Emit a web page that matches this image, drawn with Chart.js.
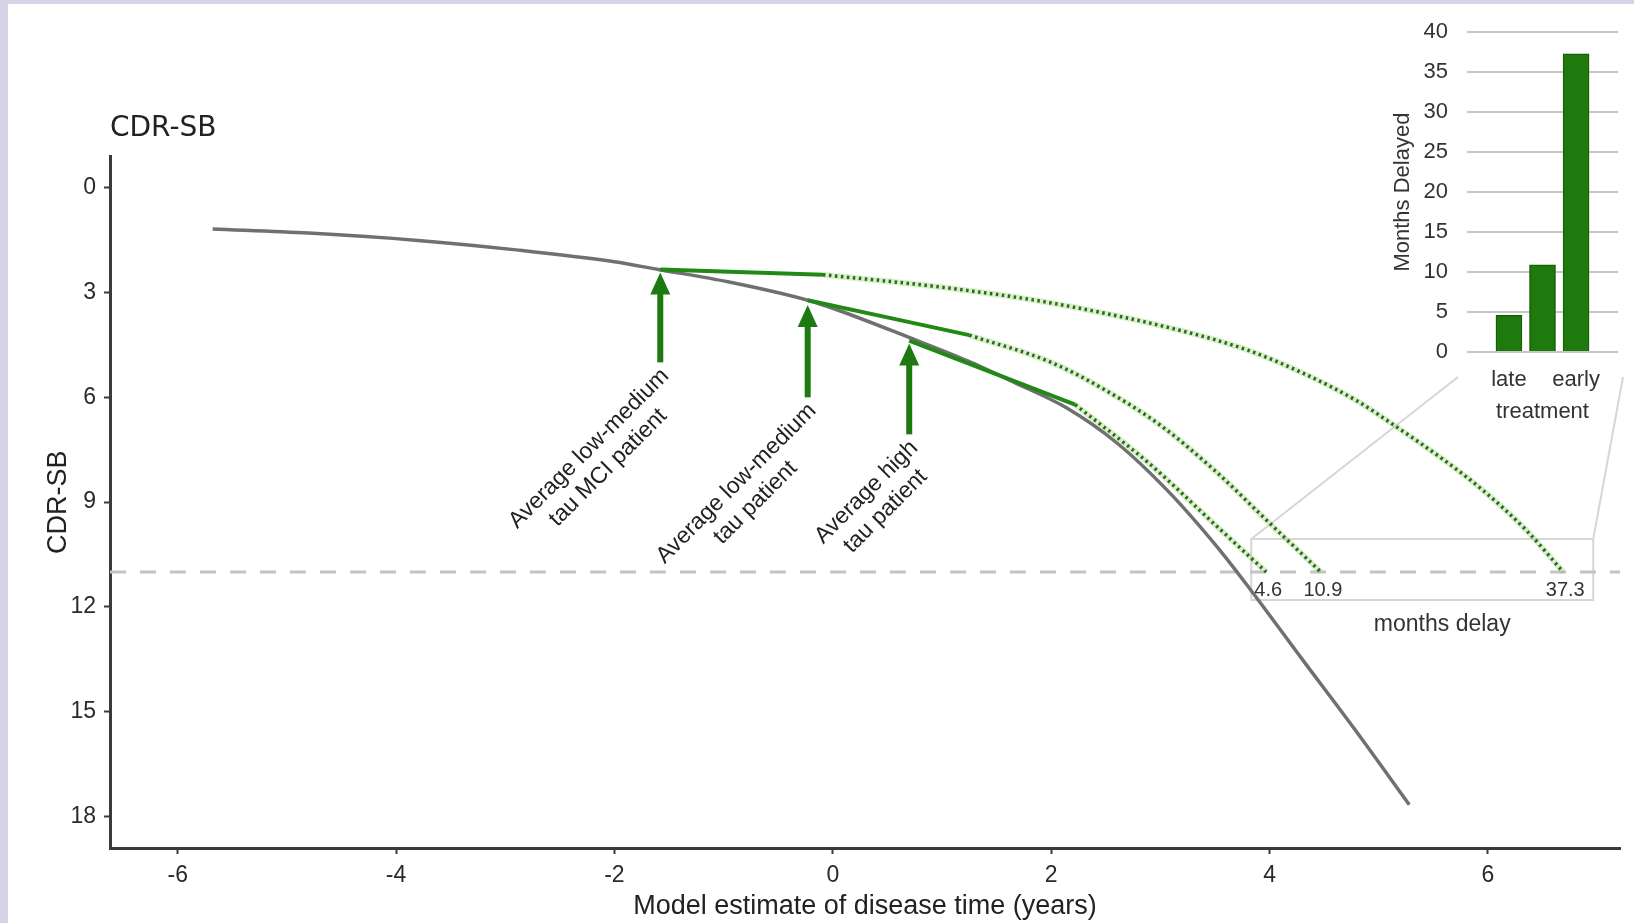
<!DOCTYPE html>
<html lang="en">
<head>
    <meta charset="UTF-8">
    <title>CDR-SB progression and months of delay</title>
    <script src="https://cdn.jsdelivr.net/npm/chart.js@4.4.1/dist/chart.umd.min.js"></script>
    <style>
        body {
            margin: 0;
            width: 1634px;
            height: 923px;
            overflow: hidden;
            background: #d5d3e5;
            font-family: 'Liberation Sans', Arial, sans-serif;
        }

        .panel {
            position: absolute;
            left: 8px;
            top: 4px;
            width: 1626px;
            height: 919px;
            background: #fff;
        }

        #insetChart {
            position: absolute;
            left: 1340px;
            top: 0;
        }
    </style>
</head>
<body>
    <div class="panel"><canvas id="mainChart" width="1626" height="919"></canvas></div>
    <canvas id="insetChart" width="294" height="440"></canvas>

    <script>
        // --- data ---

        // average disease course (years vs CDR-SB)
        const curveYears = [-5.68, -4.8, -3.8, -2.9, -2.0, -1.6, -0.95, -0.23, 0.0, 0.71, 1.23, 1.68, 2.14, 2.6, 3.06, 3.52, 3.8, 4.3, 4.78, 5.28];
        const curveCdr = [1.18, 1.30, 1.51, 1.78, 2.12, 2.34, 2.70, 3.22, 3.45, 4.30, 4.95, 5.60, 6.30, 7.30, 8.65, 10.28, 11.4, 13.5, 15.5, 17.66];

        // treated trajectories: solid = on treatment, dotted = projection
        const earlySolidYears = [-1.58, -0.09];
        const earlySolidCdr = [2.34, 2.49];
        const earlyProjYears = [-0.09, 1.0, 2.0, 3.2, 3.8, 4.3, 4.8, 5.16, 5.6, 5.95, 6.35, 6.69];
        const earlyProjCdr = [2.49, 2.85, 3.3, 4.1, 4.65, 5.3, 6.1, 6.84, 7.8, 8.65, 9.8, 11.0];

        const midSolidYears = [-0.23, 1.25];
        const midSolidCdr = [3.22, 4.22];
        const midProjYears = [1.25, 2.0, 2.5, 3.0, 3.5, 4.0, 4.47];
        const midProjCdr = [4.22, 5.0, 5.8, 6.8, 8.1, 9.6, 11.0];

        const lateSolidYears = [0.70, 2.22];
        const lateSolidCdr = [4.38, 6.21];
        const lateProjYears = [2.22, 2.9, 3.52, 3.97];
        const lateProjCdr = [6.21, 7.9, 9.7, 11.0];

        // arrows marking the average patients
        const arrowYears = [-1.58, -0.23, 0.70];
        const arrowTipCdr = [2.43, 3.36, 4.46];
        const arrowBaseCdr = [5.0, 6.0, 7.06];
        const arrowLabels = [
            ['Average low-medium', 'tau MCI patient'],
            ['Average low-medium', 'tau patient'],
            ['Average high', 'tau patient']
        ];

        const thresholdCdr = 11;
        const delayMonths = [4.6, 10.9, 37.3];   // late, middle, early
        const treatmentLabels = ['late', '', 'early'];

        const xTicks = [-6, -4, -2, 0, 2, 4, 6];
        const yTicks = [0, 3, 6, 9, 12, 15, 18];
        const insetTicks = [0, 5, 10, 15, 20, 25, 30, 35, 40];

        // --- styling ---
        const FONT = "'Liberation Sans', Arial, sans-serif";
        const GREEN = '#218915';
        const ARROW = '#1c7a10';
        const DOT = '#2b6a1e';
        const X_MIN = -6.62, X_MAX = 7.21;

        Chart.defaults.font.family = FONT;
        Chart.defaults.color = '#2a2a2a';

        const toPts = (xs, ys) => xs.map((x, i) => ({ x: x, y: ys[i] }));

        function line(pts, opts) {
            return Object.assign({
                data: pts,
                pointRadius: 0,
                fill: false,
                cubicInterpolationMode: 'monotone',
                borderCapStyle: 'butt'
            }, opts);
        }

        // inset bar chart
        const insetChart = new Chart(document.getElementById('insetChart'), {
            type: 'bar',
            data: {
                datasets: [{
                    data: delayMonths.map((m, i) => ({ x: i + 1, y: m })),
                    backgroundColor: '#1f7a0d',
                    borderColor: '#165f08',
                    borderWidth: 1.5,
                    barThickness: 26
                }]
            },
            options: {
                responsive: false,
                animation: false,
                layout: { padding: { top: 26, right: 16, left: 0, bottom: 0 } },
                plugins: { legend: { display: false }, tooltip: { enabled: false } },
                scales: {
                    x: {
                        type: 'linear',
                        min: -0.25,
                        max: 4.25,
                        offset: false,
                        afterBuildTicks: s => { s.ticks = treatmentLabels.map((_, i) => ({ value: i + 1 })); },
                        afterFit: s => { s.height = 88; },
                        grid: { display: false, drawTicks: false },
                        border: { display: false },
                        ticks: {
                            callback: v => treatmentLabels[v - 1],
                            font: { size: 22 },
                            color: '#333',
                            padding: 15,
                            autoSkip: false,
                            maxRotation: 0
                        },
                        title: {
                            display: true,
                            text: 'treatment',
                            font: { size: 22 },
                            color: '#333',
                            padding: { top: 0, bottom: 15 }
                        }
                    },
                    y: {
                        min: 0,
                        max: 40,
                        afterBuildTicks: s => { s.ticks = insetTicks.map(v => ({ value: v })); },
                        afterFit: s => { s.width = 127; },
                        grid: { color: '#c6c6c6', lineWidth: 2, drawTicks: false },
                        border: { display: false },
                        ticks: { font: { size: 22 }, color: '#333', padding: 19 },
                        title: {
                            display: true,
                            text: 'Months Delayed',
                            font: { size: 22 },
                            color: '#333',
                            padding: { top: 50, bottom: 0 }
                        }
                    }
                }
            }
        });

        const crossYears = [lateProjYears.at(-1), midProjYears.at(-1), earlyProjYears.at(-1)];

        // callout box under the threshold and lines up to the inset
        const calloutPlugin = {
            id: 'callout',
            beforeDatasetsDraw(chart) {
                const { ctx, scales: { x, y } } = chart;
                const thr = y.getPixelForValue(thresholdCdr);
                const left = x.getPixelForValue(Math.min(...crossYears)) - 15;
                const right = x.getPixelForValue(Math.max(...crossYears)) + 30;

                const mainBox = chart.canvas.getBoundingClientRect();
                const insetBox = insetChart.canvas.getBoundingClientRect();
                const area = insetChart.chartArea;
                const dx = insetBox.left - mainBox.left;
                const dy = insetBox.top - mainBox.top;

                ctx.save();
                ctx.strokeStyle = '#d6d6d6';
                ctx.lineWidth = 2;
                ctx.strokeRect(left, thr - 33, right - left, 61);
                ctx.beginPath();
                ctx.moveTo(left, thr - 33);
                ctx.lineTo(dx + area.left - 9, dy + area.bottom + 25);
                ctx.moveTo(right, thr - 33);
                ctx.lineTo(dx + area.right + 5, dy + area.bottom + 25);
                ctx.stroke();
                ctx.restore();
            },
            afterDatasetsDraw(chart) {
                const { ctx, scales: { x, y } } = chart;
                const thr = y.getPixelForValue(thresholdCdr);
                const left = x.getPixelForValue(Math.min(...crossYears)) - 15;
                const right = x.getPixelForValue(Math.max(...crossYears)) + 30;

                ctx.save();
                ctx.fillStyle = '#333';
                ctx.textAlign = 'center';
                ctx.textBaseline = 'middle';
                ctx.font = '20px ' + FONT;
                delayMonths.forEach((m, i) => {
                    ctx.fillText(m.toFixed(1), x.getPixelForValue(crossYears[i]) + 2, thr + 18);
                });
                ctx.font = '23px ' + FONT;
                ctx.fillText('months delay', (left + right) / 2 + 20, thr + 53);

                // arrows and their rotated labels
                arrowYears.forEach((yr, i) => {
                    const px = x.getPixelForValue(yr);
                    const tip = y.getPixelForValue(arrowTipCdr[i]);
                    const base = y.getPixelForValue(arrowBaseCdr[i]);

                    ctx.strokeStyle = ARROW;
                    ctx.lineWidth = 6;
                    ctx.beginPath();
                    ctx.moveTo(px, base);
                    ctx.lineTo(px, tip + 18);
                    ctx.stroke();

                    ctx.fillStyle = ARROW;
                    ctx.beginPath();
                    ctx.moveTo(px, tip);
                    ctx.lineTo(px - 10, tip + 22);
                    ctx.lineTo(px + 10, tip + 22);
                    ctx.closePath();
                    ctx.fill();

                    ctx.save();
                    ctx.translate(px + 5, base + 10);
                    ctx.rotate(-Math.PI / 4);
                    ctx.font = '23px ' + FONT;
                    ctx.fillStyle = '#222';
                    const lines = arrowLabels[i];
                    const w0 = ctx.measureText(lines[0]).width;
                    lines.forEach((t, j) => ctx.fillText(t, -w0 / 2, j * 27));
                    ctx.restore();
                });
                ctx.restore();
            }
        };

        const projDots = (xs, ys) => [
            line(toPts(xs, ys), { borderColor: 'rgba(150, 210, 110, 0.35)', borderWidth: 6, order: 4 }),
            line(toPts(xs, ys), { borderColor: DOT, borderWidth: 3.5, borderDash: [2.5, 3.5], order: 3 })
        ];

        new Chart(document.getElementById('mainChart'), {
            type: 'line',
            data: {
                datasets: [
                    line(toPts([X_MIN, X_MAX], [thresholdCdr, thresholdCdr]),
                        { borderColor: '#c4c4c4', borderWidth: 3, borderDash: [16, 14], order: 9 }),
                    line(toPts(curveYears, curveCdr), { borderColor: '#707070', borderWidth: 3.5, order: 6 }),
                    ...projDots(earlyProjYears, earlyProjCdr),
                    ...projDots(midProjYears, midProjCdr),
                    ...projDots(lateProjYears, lateProjCdr),
                    line(toPts(earlySolidYears, earlySolidCdr), { borderColor: GREEN, borderWidth: 4, order: 2 }),
                    line(toPts(midSolidYears, midSolidCdr), { borderColor: GREEN, borderWidth: 4, order: 2 }),
                    line(toPts(lateSolidYears, lateSolidCdr), { borderColor: GREEN, borderWidth: 4, order: 2 })
                ]
            },
            options: {
                responsive: false,
                animation: false,
                layout: { padding: { top: 0, left: 0, right: 14, bottom: 0 } },
                plugins: {
                    legend: { display: false },
                    tooltip: { enabled: false },
                    title: {
                        display: true,
                        text: 'CDR-SB',
                        align: 'start',
                        fullSize: false,
                        color: '#222',
                        font: { family: 'DejaVu Sans', size: 28, weight: 'normal' },
                        padding: { top: 108, bottom: 11 }
                    }
                },
                scales: {
                    x: {
                        type: 'linear',
                        min: X_MIN,
                        max: X_MAX,
                        afterBuildTicks: s => { s.ticks = xTicks.map(v => ({ value: v })); },
                        afterFit: s => { s.height = 75; },
                        grid: { drawOnChartArea: false, drawTicks: true, tickLength: 6, tickWidth: 2, tickColor: '#3a3a3a' },
                        border: { color: '#3a3a3a', width: 3 },
                        ticks: { font: { size: 23 }, color: '#2a2a2a', padding: 8, maxRotation: 0, autoSkip: false },
                        title: {
                            display: true,
                            text: 'Model estimate of disease time (years)',
                            color: '#222',
                            font: { size: 27 },
                            padding: { top: 0, bottom: 0 }
                        }
                    },
                    y: {
                        type: 'linear',
                        reverse: true,
                        min: -0.89,
                        max: 18.9,
                        afterBuildTicks: s => { s.ticks = yTicks.map(v => ({ value: v })); },
                        afterFit: s => { s.width = 102; },
                        grid: { drawOnChartArea: false, drawTicks: true, tickLength: 6, tickWidth: 2, tickColor: '#3a3a3a' },
                        border: { color: '#3a3a3a', width: 3 },
                        ticks: { font: { size: 23 }, color: '#2a2a2a', padding: 8 },
                        title: {
                            display: true,
                            text: 'CDR-SB',
                            color: '#222',
                            font: { size: 27 },
                            padding: { top: 34, bottom: 0 }
                        }
                    }
                }
            },
            plugins: [calloutPlugin]
        });
    </script>
</body>
</html>
